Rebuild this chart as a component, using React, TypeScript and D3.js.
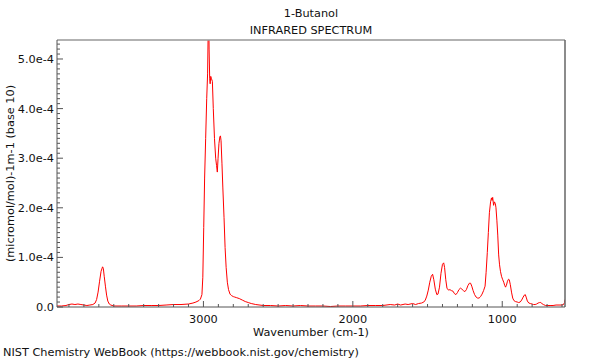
import React from "react";
import * as d3 from "d3";

// Wavenumbers (cm-1) and absorbance (units of 1e-4)
const wavenumbers: number[] = [
  3980, 3950, 3920, 3900, 3880, 3860, 3840, 3820, 3800, 3780, 3760, 3740, 3725,
  3715, 3705, 3695, 3685, 3675, 3670, 3664, 3656, 3648, 3640, 3630, 3620, 3600,
  3550, 3500, 3450, 3400, 3350, 3300, 3250, 3200, 3150, 3100, 3070, 3050, 3030,
  3020, 3010, 3004, 2998, 2992, 2985, 2978, 2972, 2968, 2965, 2962, 2958, 2955,
  2951, 2946, 2940, 2934, 2926, 2918, 2912, 2907, 2902, 2896, 2890, 2886, 2882,
  2876, 2870, 2862, 2855, 2848, 2840, 2832, 2822, 2812, 2800, 2790, 2780, 2760,
  2740, 2720, 2700, 2680, 2650, 2600, 2550, 2500, 2450, 2400, 2350, 2300, 2250,
  2200, 2150, 2100, 2050, 2000, 1950, 1900, 1850, 1800, 1750, 1720, 1700, 1680,
  1650, 1630, 1600, 1580, 1560, 1540, 1525, 1515, 1505, 1495, 1485, 1475, 1466,
  1458, 1448, 1438, 1430, 1420, 1410, 1400, 1392, 1386, 1378, 1370, 1360, 1350,
  1340, 1330, 1320, 1310, 1300, 1290, 1280, 1270, 1260, 1250, 1240, 1230, 1220,
  1212, 1204, 1195, 1185, 1175, 1165, 1155, 1145, 1135, 1125, 1115, 1108, 1100,
  1093, 1086, 1078, 1072, 1068, 1064, 1058, 1052, 1046, 1042, 1036, 1030, 1024,
  1018, 1012, 1005, 998, 990, 984, 978, 972, 965, 958, 953, 946, 938, 930, 922,
  912, 900, 890, 880, 870, 860, 852, 846, 840, 832, 822, 812, 800, 790, 780, 770,
  760, 750, 742, 735, 725, 710, 700, 680, 660, 640, 620, 600, 590, 583, 580,
];
const absorbance: number[] = [
  0.02, 0.02, 0.03, 0.05, 0.06, 0.05, 0.06, 0.05, 0.04, 0.03, 0.04, 0.05, 0.08,
  0.15, 0.3, 0.52, 0.72, 0.81, 0.78, 0.62, 0.42, 0.24, 0.12, 0.06, 0.04, 0.02,
  0.02, 0.02, 0.02, 0.03, 0.03, 0.03, 0.04, 0.05, 0.05, 0.06, 0.08, 0.1, 0.13,
  0.16, 0.25, 0.6, 1.6, 2.6, 3.4, 4.2, 4.7, 5.6, 6.0, 5.2, 4.6, 4.5,
  4.65, 4.6, 4.55, 4.0, 3.4, 3.0, 2.85, 2.72, 3.0, 3.3, 3.43, 3.45, 3.35,
  2.9, 2.4, 1.8, 1.2, 0.8, 0.5, 0.35, 0.26, 0.23, 0.21, 0.2, 0.19, 0.17,
  0.14, 0.11, 0.09, 0.07, 0.05, 0.03, 0.03, 0.02, 0.03, 0.02, 0.03, 0.02, 0.02,
  0.02, 0.01, 0.02, 0.02, 0.02, 0.02, 0.03, 0.03, 0.03, 0.05, 0.04, 0.06, 0.04,
  0.06, 0.05, 0.07, 0.05, 0.07, 0.08, 0.1, 0.14, 0.22, 0.34, 0.5, 0.62, 0.66,
  0.55, 0.36, 0.25, 0.26, 0.4, 0.68, 0.86, 0.89, 0.8, 0.55, 0.38, 0.34, 0.35,
  0.33, 0.32, 0.27, 0.25, 0.29, 0.35, 0.38, 0.36, 0.33, 0.31, 0.35, 0.43, 0.48,
  0.48, 0.42, 0.33, 0.25, 0.2, 0.18, 0.18, 0.21, 0.26, 0.33, 0.42, 0.7, 1.1,
  1.5, 1.9, 2.12, 2.2, 2.15, 2.21, 2.05, 2.12, 2.08, 2.0, 1.75, 1.45, 1.05,
  0.85, 0.72, 0.62, 0.56, 0.5, 0.44, 0.4, 0.44, 0.52, 0.56, 0.55, 0.45, 0.3, 0.18, 0.13,
  0.11, 0.1, 0.09, 0.1, 0.14, 0.2, 0.24, 0.25, 0.2, 0.12, 0.08, 0.07, 0.06, 0.05, 0.05, 0.06,
  0.08, 0.09, 0.09, 0.07, 0.05, 0.03, 0.03, 0.03, 0.03, 0.04, 0.04, 0.04, 0.05, 0.09, 0.15,
];

const xMajorTicks: number[] = [3000, 2000, 1000];
const xTickLabels: string[] = ["3000", "2000", "1000"];
const yMajorTicks: number[] = [0, 1, 2, 3, 4, 5];
const yTickLabels: string[] = ["0.0", "1.0e-4", "2.0e-4", "3.0e-4", "4.0e-4", "5.0e-4"];
const titleLines: string[] = ["1-Butanol", "INFRARED SPECTRUM"];
const xLabel = "Wavenumber (cm-1)";
const yLabel = "(micromol/mol)-1m-1 (base 10)";
const footer = "NIST Chemistry WebBook (https://webbook.nist.gov/chemistry)";

const W = 600;
const H = 360;
const L = 57;
const R = 565;
const T = 40;
const B = 307;
const FONT = "'DejaVu Sans', sans-serif";
const FS = 11.3;

export default function App() {
  const x = d3.scaleLinear().domain([3980, 580]).range([L, R]);
  const y = d3.scaleLinear().domain([0, 5.383]).range([B, T]);

  const pts: [number, number][] = wavenumbers.map((w, i) => [w, absorbance[i]]);
  const line = d3
    .line<[number, number]>()
    .x((d) => x(d[0]))
    .y((d) => y(d[1]));

  const xMinor = d3.range(600, 4000, 100).filter((v) => v <= 3980 && v >= 580 && v % 1000 !== 0);
  const yMinor = d3.range(0, 54, 1).map((v) => v / 10).filter((v) => Math.abs(v - Math.round(v)) > 1e-6 && v <= 5.383);

  const axisColor = "#555";

  return (
    <svg
      width={W}
      height={H}
      style={{ position: "absolute", left: 0, top: 0, background: "#fff" }}
      fontFamily={FONT}
    >
      <defs>
        <clipPath id="plotclip">
          <rect x={L} y={T} width={R - L} height={B - T} />
        </clipPath>
      </defs>
      <rect x={0} y={0} width={W} height={H} fill="#fff" />

      {/* title */}
      <text x={(L + R) / 2} y={17} textAnchor="middle" fontSize={FS} fill="#111">
        {titleLines[0]}
      </text>
      <text x={(L + R) / 2} y={34} textAnchor="middle" fontSize={FS} fill="#111">
        {titleLines[1]}
      </text>

      {/* spectrum */}
      <path
        d={line(pts) || ""}
        fill="none"
        stroke="#ff0000"
        strokeWidth={1}
        clipPath="url(#plotclip)"
      />

      {/* frame */}
      <line x1={L} x2={R} y1={T} y2={T} stroke="#999" strokeWidth={1.5} />
      <line x1={R} x2={R} y1={T} y2={B} stroke="#666" strokeWidth={1.5} />
      <line x1={L} x2={L} y1={T} y2={B} stroke={axisColor} strokeWidth={1} />
      <line x1={L} x2={R} y1={B} y2={B} stroke={axisColor} strokeWidth={1} />

      {/* x ticks */}
      {xMinor.map((v) => (
        <line key={"xm" + v} x1={x(v)} x2={x(v)} y1={B} y2={B - 3} stroke={axisColor} />
      ))}
      {xMajorTicks.map((v, i) => (
        <g key={"xM" + v}>
          <line x1={x(v)} x2={x(v)} y1={B} y2={B - 6} stroke={axisColor} />
          <text x={x(v)} y={323} textAnchor="middle" fontSize={FS} fill="#111">
            {xTickLabels[i]}
          </text>
        </g>
      ))}

      {/* y ticks */}
      {yMinor.map((v) => (
        <line key={"ym" + v} x1={L} x2={L + 3} y1={y(v)} y2={y(v)} stroke={axisColor} />
      ))}
      {yMajorTicks.map((v, i) => (
        <g key={"yM" + v}>
          <line x1={L} x2={L + 6} y1={y(v)} y2={y(v)} stroke={axisColor} />
          <text x={L - 3} y={y(v)} dy="0.35em" textAnchor="end" fontSize={FS} fill="#111">
            {yTickLabels[i]}
          </text>
        </g>
      ))}

      {/* axis labels */}
      <text x={(L + R) / 2} y={336} textAnchor="middle" fontSize={FS} fill="#111">
        {xLabel}
      </text>
      <text
        transform={`translate(14, ${(T + B) / 2}) rotate(-90)`}
        textAnchor="middle"
        fontSize={FS}
        fill="#111"
      >
        {yLabel}
      </text>

      {/* footer */}
      <text x={3} y={356} fontSize={FS} fill="#111">
        {footer}
      </text>
    </svg>
  );
}
